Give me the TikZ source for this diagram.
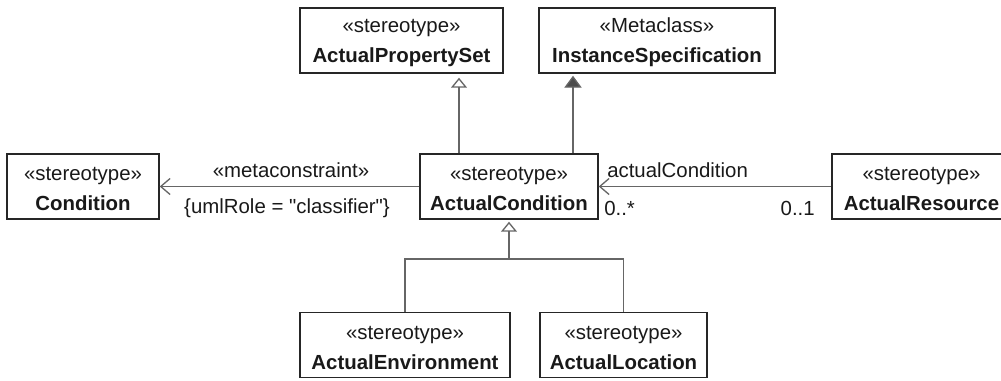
\documentclass[tikz,border=0pt]{standalone}
\usepackage{fontspec}
\setmainfont{Liberation Sans}[Ligatures=TeXOff]
\usetikzlibrary{arrows.meta}
\newcommand{\umlsize}{\fontsize{15.3}{22.5}\selectfont}
\newcommand{\stereo}[2]{\rule{0pt}{14pt}«#1»\\\textbf{#2}}
\tikzset{
  umlclass/.style={draw=black!85, line width=1.1pt, inner sep=0pt, align=center,
    minimum height=48.75pt, font=\umlsize, text=black!90},
  umlline/.style={draw=black!60, line width=1pt},
  gen/.style={umlline, -{Triangle[open,length=7.5pt,width=12pt]}},
  ext/.style={umlline, -{Triangle[fill=black!70,length=9pt,width=13pt]}},
  assoc/.style={umlline, -{Straight Barb[length=7pt,width=12pt]}},
  lbl/.style={font=\umlsize, text=black!90, inner sep=0pt}
}
\begin{document}
\begin{tikzpicture}[x=0.75pt,y=-0.75pt]
    \clip (0,0) rectangle (1001,381);
    % Klassen
    \node[umlclass, minimum width=152.25pt] (aps) at (401.5,40.5) {\stereo{stereotype}{ActualPropertySet}};
    \node[umlclass, minimum width=177pt] (ins) at (657,40.5) {\stereo{Metaclass}{InstanceSpecification}};
    \node[umlclass, minimum width=114pt] (cond) at (83,186.5) {\stereo{stereotype}{Condition}};
    \node[umlclass, minimum width=133.5pt] (acon) at (509,186.5) {\stereo{stereotype}{ActualCondition}};
    \node[umlclass, minimum width=134.25pt] (ares) at (921.5,186.5) {\stereo{stereotype}{ActualResource}};
    \node[umlclass, minimum width=157.5pt] (aenv) at (405,345) {\stereo{stereotype}{ActualEnvironment}};
    \node[umlclass, minimum width=125.25pt] (aloc) at (623.5,345) {\stereo{stereotype}{ActualLocation}};
    % Generalisierung und Extension nach oben
    \coordinate (g1) at (459,0);
    \coordinate (g2) at (573,0);
    \draw[gen, shorten >=3pt] (g1 |- acon.north) -- (g1 |- aps.south);
    \draw[ext, shorten >=1.5pt] (g2 |- acon.north) -- (g2 |- ins.south);
    % Assoziationen
    \draw[assoc] (acon.west) -- (cond.east);
    \draw[assoc] (ares.west) -- (acon.east);
    % Generalisierung nach unten
    \coordinate (bar) at (acon.south |- 0,259);
    \draw[umlline] (aenv.north) |- (bar) -| (aloc.north);
    \draw[gen, shorten >=1.5pt] (bar) -- (acon.south);
    % Beschriftungen
    \node[lbl] (mc) at (291,170) {«metaconstraint»};
    \node[lbl] (role) at (287,208) {\{umlRole = "classifier"\}};
    \node[lbl, anchor=west] (end) at (607,170) {actualCondition};
    \node[lbl, anchor=west] (m1) at (604,208) {0..*};
    \node[lbl, anchor=east] (m2) at (815,208) {0..1};
\end{tikzpicture}
\end{document}
